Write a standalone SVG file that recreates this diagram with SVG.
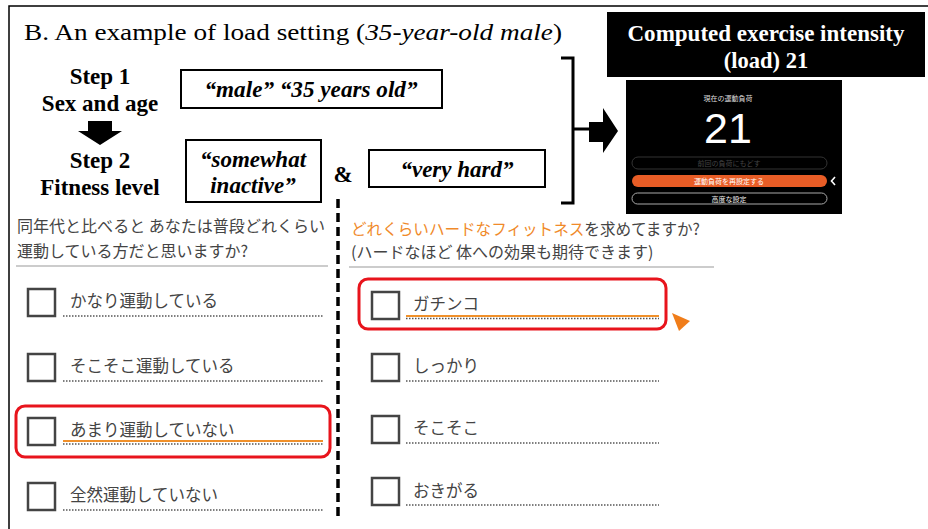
<svg xmlns="http://www.w3.org/2000/svg" width="928" height="529" viewBox="0 0 928 529">
<style>
.step{font-weight:bold;font-size:23px;fill:#000;text-anchor:middle}
.ans{font-weight:bold;font-style:italic;font-size:23px;fill:#000;text-anchor:middle}
.box{fill:#fff;stroke:#000;stroke-width:2}
.jp{fill:#444}
.q{font-size:16px}
.opt{font-size:16.5px}
.cb{fill:#fff;stroke:#444;stroke-width:2.5}
.dot{stroke:#555;stroke-width:1.3;stroke-dasharray:1.5 1.5}
.sel{fill:none;stroke:#e8141c;stroke-width:3}
.org{stroke:#f0902a;stroke-width:1.8}
.scr{font-size:7px;text-anchor:middle}
</style>
<rect width="928" height="529" fill="#fff"/>
<path d="M9 529 V6 H928" fill="none" stroke="#000" stroke-width="1.5"/>
<text font-family="Liberation Serif" x="24" y="40" font-size="24" textLength="538" lengthAdjust="spacingAndGlyphs">B. An example of load setting (<tspan font-style="italic">35-year-old male</tspan>)</text>

<g font-family="Liberation Serif">
<g id="step1">
<text class="step" x="100" y="84">Step 1</text>
<text class="step" x="100" y="111">Sex and age</text>
</g>
<g id="step2">
<text class="step" x="100" y="168">Step 2</text>
<text class="step" x="100" y="195">Fitness level</text>
</g>
<g id="box-male">
<rect class="box" x="181" y="70" width="261" height="38"/>
<text class="ans" x="311" y="97" textLength="213" lengthAdjust="spacingAndGlyphs">“male”  “35 years old”</text>
</g>
<g id="box-inactive">
<rect class="box" x="186" y="140" width="135" height="62"/>
<text class="ans" x="253" y="167">“somewhat</text>
<text class="ans" x="253" y="193">inactive”</text>
</g>
<text id="amp" class="step" x="343" y="182">&amp;</text>
<g id="box-hard">
<rect class="box" x="369" y="150" width="176" height="37"/>
<text class="ans" x="457" y="177">“very hard”</text>
</g>
<g id="result">
<rect x="607" y="12" width="318" height="65" fill="#000"/>
<text x="766" y="41" font-size="22.5" font-weight="bold" fill="#fff" text-anchor="middle" textLength="277" lengthAdjust="spacingAndGlyphs">Computed exercise intensity</text>
<text x="766" y="68" font-size="22.5" font-weight="bold" fill="#fff" text-anchor="middle">(load) 21</text>
</g>
</g>

<g id="screen" font-family="Noto Sans CJK JP, sans-serif">
<rect x="626" y="80" width="216" height="134" fill="#000"/>
<text class="scr" x="728" y="101" fill="#ddd">現在の運動負荷</text>
<text x="728" y="143" font-family="Liberation Sans, sans-serif" font-size="43" fill="#fff" text-anchor="middle">21</text>
<rect x="632" y="157" width="195" height="12" rx="6" fill="none" stroke="#333" stroke-width="1"/>
<text class="scr" x="729" y="166" fill="#444">前回の負荷にもどす</text>
<rect x="632" y="175" width="195" height="12" rx="6" fill="#e85d26"/>
<text class="scr" x="729" y="184" fill="#fff">運動負荷を再設定する</text>
<rect x="632" y="193" width="195" height="11" rx="5.5" fill="none" stroke="#aaa" stroke-width="1"/>
<text class="scr" x="729" y="201.5" fill="#eee">高度な設定</text>
<path d="M835 177 L831.5 181 L835 185" fill="none" stroke="#fff" stroke-width="1.6"/>
</g>

<g id="connectors">
<path d="M88 121 H112 V131 H122 L100 145 L78 131 H88 Z" fill="#000"/>
<path d="M561 58 H573 V203 H561 M573 129 H589" fill="none" stroke="#000" stroke-width="3"/>
<path d="M589 122 H603 V108 L618 131 L603 153 V142 H589 Z" fill="#000"/>
<line x1="338" y1="199" x2="338" y2="516" stroke="#000" stroke-width="3.5" stroke-dasharray="9 5"/>
</g>

<g id="q1" font-family="Noto Sans CJK JP, Noto Sans, sans-serif">
<text class="jp q" x="17" y="232" textLength="308" lengthAdjust="spacingAndGlyphs">同年代と比べると あなたは普段どれくらい</text>
<text class="jp q" x="17" y="257">運動している方だと思いますか?</text>
<line x1="16" y1="266" x2="328" y2="266" stroke="#bbb" stroke-width="1.5"/>
<rect class="cb" x="28" y="289" width="27" height="27"/>
<text class="jp opt" x="70" y="307">かなり運動している</text>
<line class="dot" x1="63" y1="316" x2="323" y2="316"/>
<rect class="cb" x="28" y="354" width="27" height="27"/>
<text class="jp opt" x="70" y="372">そこそこ運動している</text>
<line class="dot" x1="63" y1="381" x2="323" y2="381"/>
<rect class="cb" x="28" y="418" width="27" height="27"/>
<text class="jp opt" x="70" y="436">あまり運動していない</text>
<line class="org" x1="63" y1="441" x2="323" y2="441"/>
<line class="dot" x1="63" y1="444" x2="323" y2="444"/>
<rect class="sel" x="16" y="406" width="314" height="51" rx="9"/>
<rect class="cb" x="28" y="483" width="27" height="27"/>
<text class="jp opt" x="70" y="501">全然運動していない</text>
<line class="dot" x1="63" y1="510" x2="323" y2="510"/>
</g>

<g id="q2" font-family="Noto Sans CJK JP, Noto Sans, sans-serif">
<text class="jp q" x="351" y="235" textLength="349" lengthAdjust="spacingAndGlyphs"><tspan fill="#f08a2a">どれくらいハードなフィットネス</tspan>を求めてますか?</text>
<text class="jp q" x="351" y="258">(ハードなほど 体への効果も期待できます)</text>
<line x1="349" y1="267" x2="714" y2="267" stroke="#bbb" stroke-width="1.5"/>
<rect class="cb" x="372" y="292" width="27" height="27"/>
<text class="jp opt" x="413" y="310">ガチンコ</text>
<line class="org" x1="406" y1="316" x2="659" y2="316"/>
<line class="dot" x1="406" y1="318.5" x2="659" y2="318.5"/>
<rect class="sel" x="359" y="279" width="307" height="50" rx="9"/>
<path d="M672 313 L690 321 L679 331 Z" fill="#f07d1a"/>
<rect class="cb" x="372" y="354" width="27" height="27"/>
<text class="jp opt" x="413" y="372">しっかり</text>
<line class="dot" x1="406" y1="381" x2="659" y2="381"/>
<rect class="cb" x="372" y="416" width="27" height="27"/>
<text class="jp opt" x="413" y="434">そこそこ</text>
<line class="dot" x1="406" y1="443" x2="659" y2="443"/>
<rect class="cb" x="372" y="478" width="27" height="27"/>
<text class="jp opt" x="413" y="497">おきがる</text>
<line class="dot" x1="406" y1="505" x2="659" y2="505"/>
</g>
</svg>
